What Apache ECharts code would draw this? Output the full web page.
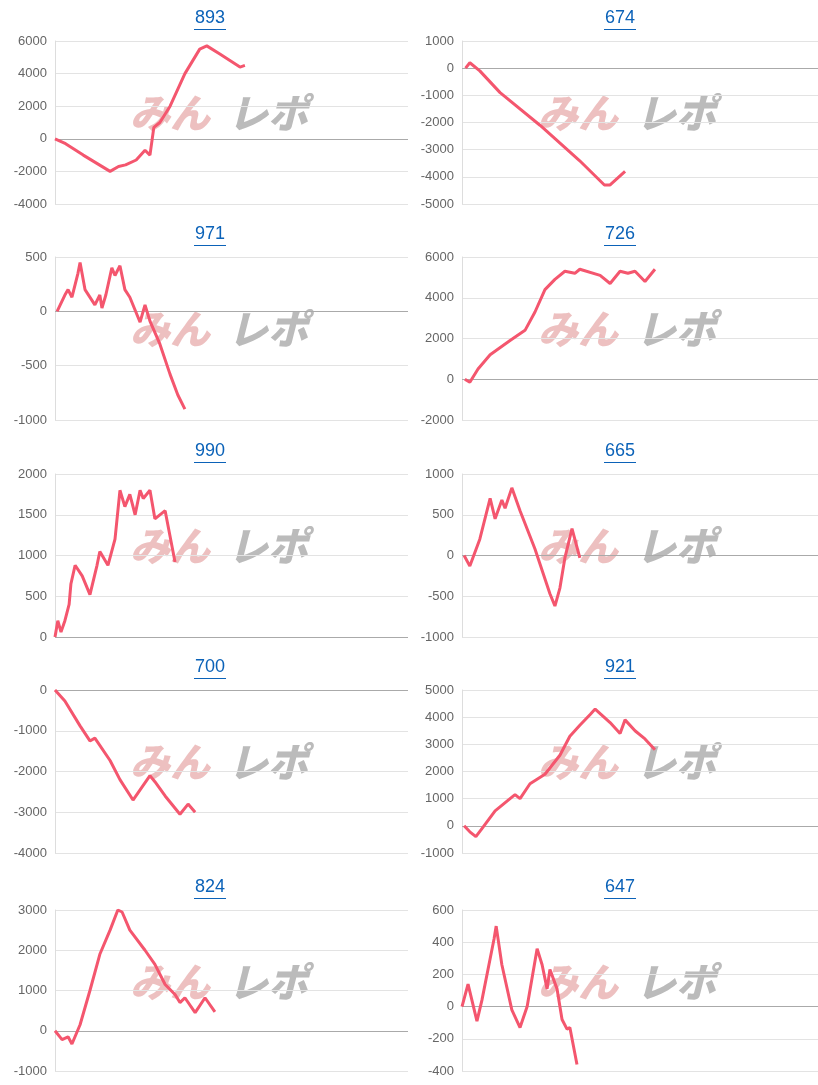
<!DOCTYPE html>
<html><head><meta charset="utf-8">
<script src="https://cdn.jsdelivr.net/npm/echarts@6/dist/echarts.min.js"></script>
<style>html,body{margin:0;padding:0;background:#fff}#c{width:818px;height:1085px}</style>
</head><body><div id="c"></div>
<script>
const titles = ['893','674','971','726','990','665','700','921','824','647'];
const yMins = [-4000,-5000,-1000,-2000,0,-1000,-4000,-1000,-1000,-400];
const yMaxs = [6000,1000,500,6000,2000,1000,0,5000,3000,600];
const yIntervals = [2000,1000,500,2000,500,500,1000,1000,1000,200];
const xs0=[0,3,8,15.6,18,20,23,25.5,26.9,28,29.7,32.6,36.8,41,43,46.7,52.4,53.8];
const ys0=[0,-300,-1000,-2000,-1700,-1600,-1300,-700,-1000,700,1000,2000,4000,5500,5700,5200,4400,4500];
const xs1=[1,2.2,5,10.7,21.9,33,40,41.6,45.8];
const ys1=[0,200,-100,-900,-2100,-3400,-4300,-4300,-3800];
const xs2=[0.6,2.8,3.7,4.8,6.5,7.1,8.5,11.3,12.7,13.3,14.4,16.1,17,18.4,19.8,21.2,24.1,25.5,26.9,29.7,32.6,34.8,36.8];
const ys2=[0,150,200,130,350,450,200,60,150,30,150,400,330,420,200,130,-100,60,-90,-300,-580,-770,-900];
const xs3=[0.8,2.2,4.5,7.9,13.5,17.7,20.5,23.3,26.1,28.9,31.7,33.1,38.8,41.6,44.4,46.6,48.6,51.4,54.2];
const ys3=[0,-150,500,1200,1900,2400,3300,4400,4900,5300,5200,5400,5100,4700,5300,5200,5300,4800,5400];
const xs4=[0,0.8,1.7,2.8,3.1,4,4.5,5.7,7.7,9.9,11.9,12.7,15,17,18.4,19.8,21.2,22.7,24.1,25,26.9,28.3,31.2,34];
const ys4=[0,200,60,200,250,400,650,880,750,520,880,1050,880,1200,1800,1600,1750,1500,1800,1700,1800,1450,1550,920];
const xs5=[0.6,2.2,5,7.9,9.3,11.2,12.1,14,16.3,20.5,24.7,26.1,27.5,28.9,30.9,33.1];
const ys5=[0,-130,200,700,450,680,580,830,550,80,-470,-620,-400,-30,330,-30];
const xs6=[0,2.8,7.1,9.9,11.3,15.6,18.4,22.1,24.1,26.9,28.3,31.2,35.4,37.7,39.7];
const ys6=[0,-270,-880,-1250,-1180,-1730,-2200,-2700,-2450,-2100,-2250,-2600,-3050,-2800,-3000];
const xs7=[0.6,2.2,3.9,5.6,9.3,13.5,14.9,16.3,19.1,23.3,27.5,30.3,33.1,36,37.4,41.6,44.4,45.8,48.6,51.4,54.2];
const ys7=[0,-220,-400,-100,550,1000,1150,1000,1550,1900,2600,3300,3700,4100,4300,3800,3400,3900,3500,3200,2800];
const xs8=[0,2,3.7,4.8,7.1,9.9,12.7,15.6,17.8,19,21.2,25.5,28.3,31.2,34,35.4,36.8,39.7,42.5,45.3];
const ys8=[0,-220,-150,-330,150,1000,1900,2500,3000,2950,2500,2000,1650,1150,900,700,820,450,820,470];
const xs9=[0,1.7,4.2,5.6,9,9.6,11.2,14,16.3,18.3,21.1,22.5,23.9,24.7,26.7,28.1,29.5,30.3,32.3];
const ys9=[0,140,-90,40,420,500,260,-20,-130,0,360,260,110,230,110,-80,-140,-130,-360];
const XS=[xs0,xs1,xs2,xs3,xs4,xs5,xs6,xs7,xs8,xs9];
const YS=[ys0,ys1,ys2,ys3,ys4,ys5,ys6,ys7,ys8,ys9];
const tops=[41,257,474,690,910], bottoms=[204,420,637,853,1071];
const grid=[],xAxis=[],yAxis=[],series=[],graphic=[];
for(let i=0;i<10;i++){
  const col=i%2,row=Math.floor(i/2);
  const left=col?462:55, w=col?356:353;
  grid.push({left:left,width:w,top:tops[row],height:bottoms[row]-tops[row]});
  xAxis.push({gridIndex:i,type:'value',min:0,max:100,axisLine:{show:false},axisTick:{show:false},axisLabel:{show:false},splitLine:{show:false}});
  yAxis.push({gridIndex:i,type:'value',min:yMins[i],max:yMaxs[i],interval:yIntervals[i],
    axisLine:{show:true,lineStyle:{color:'#ddd'}},axisTick:{show:false},
    axisLabel:{color:'#666',fontSize:13,fontFamily:'Arial, Liberation Sans',margin:8,formatter:v=>String(v)},
    splitLine:{lineStyle:{color:'#e3e3e3'}}});
  series.push({type:'line',xAxisIndex:i,yAxisIndex:i,showSymbol:false,data:XS[i].map((x,k)=>[x,YS[i][k]]),
    lineStyle:{color:'#f4566e',width:3},itemStyle:{color:'#f4566e'},z:5,
    markLine:{silent:true,symbol:'none',label:{show:false},lineStyle:{color:'#aaa',width:1,type:'solid'},data:[{yAxis:0}],z:1}});
  const cx=col?620:210, ty=tops[row]-32;
  graphic.push({type:'text',x:cx,y:ty,style:{text:titles[i],fill:'#0b62b8',font:'18px Arial, "Liberation Sans"',textAlign:'center',textVerticalAlign:'top'}});
  graphic.push({type:'rect',shape:{x:cx-16,y:ty+20,width:32,height:1},style:{fill:'#0b62b8'}});
  const wy=tops[row]+52, wx=col?538:130;
  graphic.push({type:'text',x:wx,y:wy,z:0,style:{text:'みん',fill:'rgba(225,150,150,0.6)',font:'italic 900 40px "Noto Sans CJK JP"'}});
  graphic.push({type:'text',x:wx+98,y:wy,z:0,style:{text:'レポ',fill:'rgba(150,150,150,0.65)',font:'italic 900 40px "Noto Sans CJK JP"'}});
}
const chart=echarts.init(document.getElementById('c'));
chart.setOption({animation:false,grid,xAxis,yAxis,series,graphic});
</script></body></html>
